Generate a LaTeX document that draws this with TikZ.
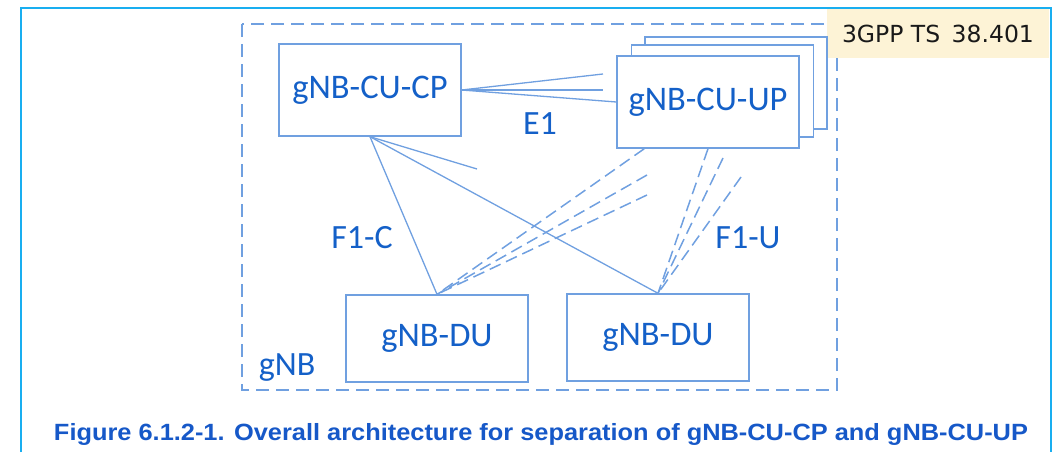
\documentclass[tikz,border=0pt]{standalone}
\usepackage{fontspec}
\setmainfont{Carlito}
\newfontfamily\capfont{Liberation Sans}
\newfontfamily\tagfont{DejaVu Sans}
\usetikzlibrary{calc}
\definecolor{framecol}{RGB}{25,174,240}
\definecolor{boxline}{RGB}{112,160,224}
\definecolor{txtblue}{RGB}{20,96,200}
\definecolor{capblue}{RGB}{22,88,200}
\definecolor{cream}{RGB}{253,243,214}
\tikzset{
  unit/.style={draw=boxline, line width=1.4pt, fill=white, text=txtblue, inner sep=0pt,
    minimum width=182pt, font=\fontsize{34.5}{34.5}\selectfont},
  lbl/.style={text=txtblue, inner sep=0pt, font=\fontsize{34}{34}\selectfont},
  link/.style={draw=boxline, line width=1.3pt},
  ulink/.style={draw=boxline, line width=1.5pt, dash pattern=on 12pt off 6pt},
  gnbbox/.style={draw=boxline, line width=2pt, dash pattern=on 13pt off 7pt}
}
\begin{document}
\begin{tikzpicture}[x=1pt,y=-1pt]
\useasboundingbox (0,0) rectangle (1059,452);
% gNB dashed boundary
\draw[gnbbox] (242,24) rectangle (837,390);
\node[lbl] (gnb) at (287,368) {gNB};
% tag
\node[fill=cream, minimum width=222pt, minimum height=49pt, inner sep=0pt,
  font=\tagfont\fontsize{23.5}{23.5}\selectfont, text={rgb,255:red,25;green,25;blue,25}]
  (tag) at (938,33.5) {3GPP TS\hspace{4pt} 38.401};
% units
\node[unit, minimum height=92pt] (cp) at (370,90) {gNB-CU-CP};
\node[unit, minimum height=92pt] (upC) at (736,83) {};
\node[unit, minimum height=92pt] (upB) at (722.5,91) {};
\node[unit, minimum height=92pt] (upA) at (708,102) {gNB-CU-UP};
\node[unit, minimum height=87pt] (duL) at (437,338.5) {gNB-DU};
\node[unit, minimum height=87pt] (duR) at (658,337.5) {gNB-DU};
% free ends
\coordinate (e1a) at (603,74);
\coordinate (e1b) at (603,90);
\coordinate (f1cx) at (477,169);
\coordinate (uL1) at ($(upA.south west)+(28,0)$);
\coordinate (uL2) at (647,175);
\coordinate (uL3) at (647,195);
\coordinate (uR2) at (723,158);
\coordinate (uR3) at (741,177);
% E1
\draw[link] (cp.east) -- (e1a);
\draw[link] (cp.east) -- (e1b);
\draw[link] (cp.east) -- (upA.west);
% F1-C
\draw[link] (cp.south) -- (duL.north);
\draw[link] (cp.south) -- (duR.north);
\draw[link] (cp.south) -- (f1cx);
% F1-U
\draw[ulink] (uL1) -- (duL.north);
\draw[ulink] (uL2) -- (duL.north);
\draw[ulink] (uL3) -- (duL.north);
\draw[ulink] (upA.south) -- (duR.north);
\draw[ulink] (uR2) -- (duR.north);
\draw[ulink] (uR3) -- (duR.north);
% interface labels
\node[lbl] (e1) at (540,124) {E1};
\node[lbl] (f1c) at (362,238) {F1-C};
\node[lbl] (f1u) at (748,238) {F1-U};
% caption
\node[anchor=base, inner sep=0pt, text=capblue, font=\capfont\bfseries\fontsize{23.5}{23.5}\selectfont]
  (cap) at (541,440) {\scalebox{1.08}[1]{Figure 6.1.2-1. Overall architecture for separation of gNB-CU-CP and gNB-CU-UP}};
% outer frame
\draw[framecol, line width=2.5pt] (21,452) -- (21,8) -- (1051,8) -- (1051,452);
\end{tikzpicture}
\end{document}
